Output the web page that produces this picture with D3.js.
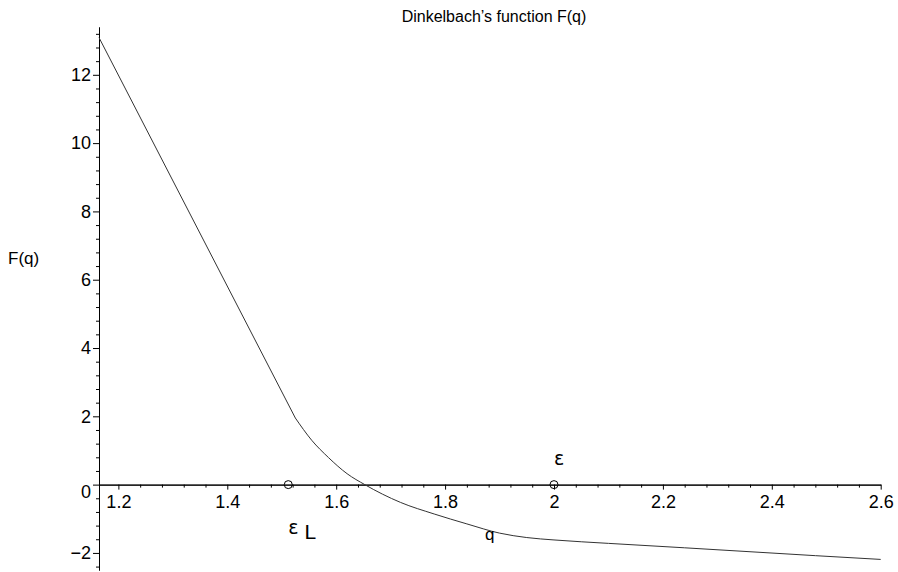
<!DOCTYPE html>
<html>
<head>
<meta charset="utf-8">
<script src="https://cdn.jsdelivr.net/npm/d3@7"></script>
<style>
  body { margin: 0; background: #fff; }
  svg { display: block; font-family: "Liberation Sans", Arial, sans-serif; }
</style>
</head>
<body>
<div id="chart"></div>
<script>
// curve samples of F(q)
var qValues = [1.1644, 1.525, 1.555, 1.586, 1.62, 1.6525, 1.718, 1.78, 1.84, 1.90, 1.95, 2.0, 2.1, 2.24, 2.48, 2.6];
var fValues = [13.09, 1.95, 1.30, 0.79, 0.32, 0, -0.52, -0.86, -1.15, -1.42, -1.55, -1.62, -1.72, -1.85, -2.08, -2.19];

// marked points on the q axis
var markerQ = [1.512, 2.0];
var markerF = [0, 0];

var xTicks = [1.2, 1.4, 1.6, 1.8, 2, 2.2, 2.4, 2.6];
var yTicks = [-2, 0, 2, 4, 6, 8, 10, 12];

var titleText = "Dinkelbach\u2019s function F(q)";
var xLabel = "q";
var yLabel = "F(q)";

var W = 898, H = 572;
var tickFont = 18;

var svg = d3.select("#chart").append("svg")
    .attr("width", W)
    .attr("height", H);

var x = d3.scaleLinear().domain([1.1644, 2.6]).range([99, 880.7]);
var y = d3.scaleLinear().domain([-2.5, 13.4]).range([570, 27]);

// minor ticks every 0.04 on q and 0.4 on F
var xMinor = d3.range(0, 36).map(function(i) { return Math.round((1.2 + i * 0.04) * 100) / 100; })
    .filter(function(v) { return xTicks.indexOf(v) < 0; });
var yMinor = d3.range(0, 41).map(function(i) { return Math.round((-2.4 + i * 0.4) * 10) / 10; })
    .filter(function(v) { return yTicks.indexOf(v) < 0 && v <= 13.4; });

// x axis sits on F = 0
var xg = svg.append("g")
    .attr("transform", "translate(0," + y(0) + ")");
xg.append("g")
    .call(d3.axisBottom(x).tickValues(xMinor).tickSize(3).tickSizeOuter(0).tickFormat(""));
var xMajor = xg.append("g")
    .call(d3.axisBottom(x).tickValues(xTicks).tickSize(5).tickSizeOuter(0).tickFormat(function(d) { return d3.format("")(d); }));
xMajor.attr("font-size", tickFont).attr("font-family", "Liberation Sans, Arial, sans-serif");
xMajor.selectAll("text").attr("fill", "#000").attr("dy", "0.85em");
xg.selectAll("path.domain").attr("stroke", "#000");
xg.selectAll("line").attr("stroke", "#000");

// y axis on the left edge
var yg = svg.append("g")
    .attr("transform", "translate(" + x.range()[0] + ",0)");
yg.append("g")
    .call(d3.axisLeft(y).tickValues(yMinor).tickSize(3).tickSizeOuter(0).tickFormat(""));
var yMajor = yg.append("g")
    .call(d3.axisLeft(y).tickValues(yTicks).tickSize(6).tickSizeOuter(0).tickFormat(function(d) { return d < 0 ? "\u2212" + Math.abs(d) : d; }));
yMajor.attr("font-size", tickFont).attr("font-family", "Liberation Sans, Arial, sans-serif");
yMajor.selectAll("text").attr("fill", "#000").attr("x", -8);
// the zero label is pushed below the q axis
yMajor.selectAll(".tick").filter(function(d) { return d === 0; }).select("text").attr("dy", "0.7em");
yg.selectAll("path.domain").attr("stroke", "#000");
yg.selectAll("line").attr("stroke", "#000");

// the curve: straight part down to the kink, smooth part after it
var pts = qValues.map(function(q, i) { return [q, fValues[i]]; });
var line = d3.line().x(function(d) { return x(d[0]); }).y(function(d) { return y(d[1]); });
svg.append("path")
    .datum(pts.slice(0, 2))
    .attr("fill", "none")
    .attr("stroke", "#333")
    .attr("stroke-width", 1)
    .attr("d", line);
svg.append("path")
    .datum(pts.slice(1))
    .attr("fill", "none")
    .attr("stroke", "#333")
    .attr("stroke-width", 1)
    .attr("d", line.curve(d3.curveMonotoneX));

// circle markers
svg.selectAll(".marker")
    .data(markerQ)
  .enter().append("circle")
    .attr("class", "marker")
    .attr("cx", function(d) { return x(d); })
    .attr("cy", function(d, i) { return y(markerF[i]); })
    .attr("r", 4)
    .attr("fill", "none")
    .attr("stroke", "#000")
    .attr("stroke-width", 1);

// epsilon labels next to the markers
var epsL = svg.append("text")
    .attr("x", x(markerQ[0]))
    .attr("y", y(markerF[0]) + 49)
    .attr("font-family", "DejaVu Sans, sans-serif")
    .attr("font-size", 19)
    .text("\u03b5");
epsL.append("tspan")
    .attr("dx", 6)
    .attr("dy", 5)
    .attr("font-family", "Liberation Sans, Arial, sans-serif")
    .attr("font-size", 21)
    .text("L");

svg.append("text")
    .attr("x", x(markerQ[1]))
    .attr("y", y(markerF[1]) - 20)
    .attr("font-family", "DejaVu Sans, sans-serif")
    .attr("font-size", 19)
    .text("\u03b5");

// title and axis labels
svg.append("text")
    .attr("x", 494)
    .attr("y", 22)
    .attr("text-anchor", "middle")
    .attr("font-size", 16)
    .text(titleText);

svg.append("text")
    .attr("x", (x.range()[0] + x.range()[1]) / 2)
    .attr("y", 540)
    .attr("text-anchor", "middle")
    .attr("font-size", 17)
    .text(xLabel);

svg.append("text")
    .attr("x", 8)
    .attr("y", 264)
    .attr("font-size", 17)
    .text(yLabel);
</script>
</body>
</html>
